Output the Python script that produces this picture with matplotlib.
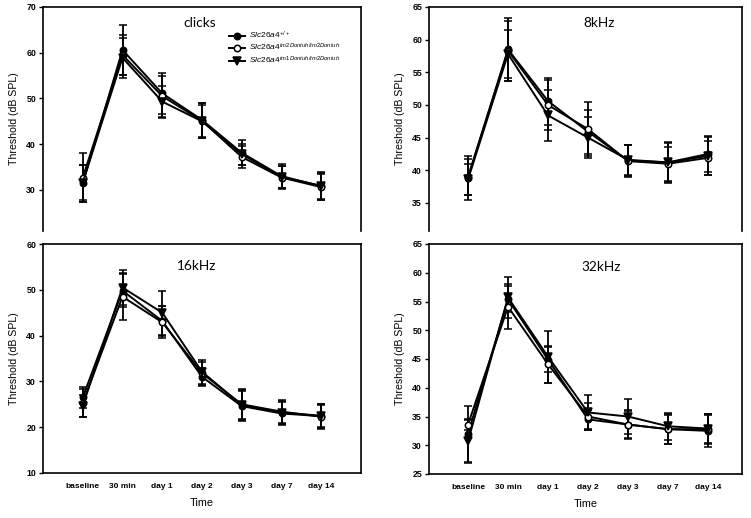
import matplotlib
matplotlib.use('Agg')
import matplotlib.pyplot as plt
from matplotlib.lines import Line2D

plt.rcParams['font.family'] = ['Liberation Sans', 'DejaVu Sans']
plt.rcParams['mathtext.fontset'] = 'custom'
plt.rcParams['mathtext.it'] = 'Liberation Sans:italic'
plt.rcParams['mathtext.rm'] = 'Liberation Sans'

times = ['baseline', '30 min', 'day 1', 'day 2', 'day 3', 'day 7', 'day 14']
labels = [r'$\mathit{Slc26a4}^{\mathit{+/+}}$',
          r'$\mathit{Slc26a4}^{\mathit{tm2Dontuh/tm2Dontuh}}$',
          r'$\mathit{Slc26a4}^{\mathit{tm1Dontuh/tm2Dontuh}}$']

# clicks
clicks_wt = [31.4, 60.6, 51.1, 45.3, 38.1, 33.0, 30.8]
clicks_wt_se = [4.0, 5.5, 4.4, 3.8, 2.7, 2.6, 3.0]
clicks_m2 = [32.7, 59.5, 50.5, 45.1, 37.2, 32.7, 30.6]
clicks_m2_se = [5.3, 4.4, 4.5, 3.8, 2.5, 2.6, 2.9]
clicks_m1 = [31.6, 58.9, 49.3, 45.0, 37.8, 32.8, 30.9]
clicks_m1_se = [3.8, 4.4, 3.5, 3.6, 2.3, 2.5, 2.8]

# 8 kHz
k8_wt = [38.8, 58.5, 50.6, 45.9, 41.5, 41.2, 42.5]
k8_wt_se = [3.4, 4.8, 3.6, 3.4, 2.4, 3.2, 2.7]
k8_m2 = [39.0, 58.3, 50.0, 46.3, 41.4, 41.0, 41.9]
k8_m2_se = [2.8, 4.6, 3.8, 4.1, 2.4, 2.6, 2.6]
k8_m1 = [38.6, 57.8, 48.4, 45.0, 41.6, 41.2, 42.2]
k8_m1_se = [2.4, 3.7, 3.9, 3.1, 2.3, 3.0, 2.9]

# 16 kHz
k16_wt = [26.5, 49.8, 43.2, 31.0, 24.6, 23.0, 22.4]
k16_wt_se = [2.3, 3.6, 3.2, 2.0, 3.3, 2.6, 2.6]
k16_m2 = [25.3, 48.5, 42.9, 31.8, 25.0, 23.4, 22.3]
k16_m2_se = [3.1, 5.2, 3.5, 2.5, 3.3, 2.5, 2.6]
k16_m1 = [24.7, 50.5, 45.0, 32.1, 24.8, 23.2, 22.5]
k16_m1_se = [2.4, 3.8, 4.8, 2.6, 3.3, 2.6, 2.5]

# 32 kHz
k32_wt = [32.0, 55.4, 44.9, 34.5, 33.6, 32.8, 32.5]
k32_wt_se = [4.9, 2.3, 2.2, 1.7, 2.3, 2.6, 2.8]
k32_m2 = [33.6, 54.1, 44.1, 35.0, 33.6, 32.8, 32.8]
k32_m2_se = [1.0, 3.9, 3.2, 2.3, 2.5, 2.5, 2.6]
k32_m1 = [30.7, 55.7, 45.4, 35.7, 35.0, 33.3, 32.9]
k32_m1_se = [3.7, 3.6, 4.5, 3.0, 3.0, 2.3, 2.5]

W, H = 751, 518
fig = plt.figure(figsize=(W / 100, H / 100), dpi=100)


def box(l, r, t, b):
    return [l / W, 1 - b / H, (r - l) / W, (b - t) / H]


panels = [
    dict(rect=box(43, 361, 7, 231), ylim=(21, 70), ticks=range(30, 71, 10), xlim=(-1.0, 7.0),
         title='clicks', tpos=(0.494, 0.927), xaxis=False, legend=True,
         data=[(clicks_wt, clicks_wt_se), (clicks_m2, clicks_m2_se), (clicks_m1, clicks_m1_se)]),
    dict(rect=box(429, 742, 7, 231), ylim=(30.7, 65), ticks=range(35, 66, 5), xlim=(-0.975, 6.85),
         title='8kHz', tpos=(0.543, 0.927), xaxis=False, legend=False,
         data=[(k8_wt, k8_wt_se), (k8_m2, k8_m2_se), (k8_m1, k8_m1_se)]),
    dict(rect=box(43, 361, 244, 473), ylim=(10, 60), ticks=range(10, 61, 10), xlim=(-1.0, 7.0),
         title='16kHz', tpos=(0.484, 0.905), xaxis=True, legend=False,
         data=[(k16_wt, k16_wt_se), (k16_m2, k16_m2_se), (k16_m1, k16_m1_se)]),
    dict(rect=box(429, 742, 244, 474), ylim=(25, 65), ticks=range(25, 66, 5), xlim=(-0.975, 6.85),
         title='32kHz', tpos=(0.55, 0.90), xaxis=True, legend=False,
         data=[(k32_wt, k32_wt_se), (k32_m2, k32_m2_se), (k32_m1, k32_m1_se)]),
]

styles = [dict(marker='o', mfc='black', ms=4.6),
          dict(marker='o', mfc='white', ms=4.6),
          dict(marker='v', mfc='black', ms=5.2)]

x = list(range(len(times)))
for p in panels:
    ax = fig.add_axes(p['rect'])
    for (vals, se), st in zip(p['data'], styles):
        ax.errorbar(x, vals, yerr=se, color='black', lw=1.4, elinewidth=1.3,
                    capsize=2.6, capthick=1.7, mec='black', mew=1.1, **st)
    ax.set_xlim(*p['xlim'])
    ax.set_ylim(*p['ylim'])
    ax.set_yticks(list(p['ticks']))
    ax.tick_params(axis='y', direction='out', length=3, width=1, pad=2, labelsize=6.3)
    for lab in ax.get_yticklabels():
        lab.set_fontweight('bold')
    for s in ax.spines.values():
        s.set_linewidth(1.2)
    ax.set_ylabel('Threshold (dB SPL)', fontsize=7.6, labelpad=5)
    if p['xaxis']:
        ax.set_xticks(x)
        ax.set_xticklabels(times, fontsize=6, fontweight='bold')
        ax.tick_params(axis='x', length=0, pad=7)
        ax.set_xlabel('Time', fontsize=7.8, labelpad=6)
    else:
        ax.set_xticks([])
        ax.spines['bottom'].set_visible(False)
    ax.text(p['tpos'][0], p['tpos'][1], p['title'], transform=ax.transAxes,
            ha='center', va='center', fontsize=9.8, family=['Lato', 'DejaVu Sans'])
    if p['legend']:
        handles = [Line2D([], [], color='black', lw=1.4, mec='black', mew=1.1, **st)
                   for st in styles]
        ax.legend(handles, labels, loc='upper left', bbox_to_anchor=(0.565, 0.925),
                  frameon=False, fontsize=6, handlelength=2.0, handletextpad=0.4,
                  labelspacing=0.15, borderpad=0.2)

fig.savefig('out.png', dpi=100)
